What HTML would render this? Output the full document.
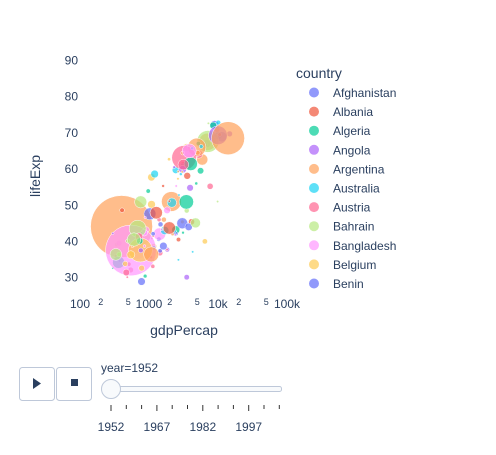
<!DOCTYPE html>
<html><head><meta charset="utf-8">
<style>
body{margin:0;background:#fff;font-family:"Liberation Sans",sans-serif;}
svg text{font-family:"Liberation Sans",sans-serif;fill:#2a3f5f;}
</style></head>
<body>
<svg id="chart" width="496" height="450" viewBox="0 0 496 450" xmlns="http://www.w3.org/2000/svg">
<defs><clipPath id="pc"><rect x="80" y="55" width="208" height="245"/></clipPath></defs>
<g id="ticks"></g>
<g id="marks" clip-path="url(#pc)"></g>
<text x="40" y="176" font-size="14" text-anchor="middle" transform="rotate(-90 40 176)">lifeExp</text>
<text x="184" y="335" font-size="14" text-anchor="middle">gdpPercap</text>
<g id="legend"><text x="296" y="78" font-size="14">country</text></g>
<g>
<rect x="19.5" y="367.5" width="35" height="33" rx="3" fill="#fff" stroke="#bec8d9"/>
<path d="M33 378 L41 383.5 L33 389 Z" fill="#2a3f5f"/>
<rect x="56.5" y="367.5" width="35" height="33" rx="3" fill="#fff" stroke="#bec8d9"/>
<rect x="71" y="379" width="7" height="7" fill="#2a3f5f"/>
<text x="101" y="372" font-size="12">year=1952</text>
<rect x="103.5" y="386.5" width="178" height="5" rx="2" fill="#f8fafc" stroke="#bec8d9"/>
<g id="sticks"></g>
<circle cx="111" cy="389" r="9.5" fill="#f8fafc" stroke="#bec8d9"/>
</g>
</svg>
<script>
const NS="http://www.w3.org/2000/svg";
const countries=["Afghanistan","Albania","Algeria","Angola","Argentina","Australia","Austria","Bahrain","Bangladesh","Belgium","Benin","Bolivia","Bosnia","Botswana","Brazil","Bulgaria","Burkina Faso","Burundi","Cambodia","Cameroon","Canada","CAR","Chad","Chile","China","Colombia","Comoros","Congo DR","Congo Rep","Costa Rica","Cote d'Ivoire","Croatia","Cuba","Czech Republic","Denmark","Djibouti","Dominican Rep","Ecuador","Egypt","El Salvador","Eq Guinea","Eritrea","Ethiopia","Finland","France","Gabon","Gambia","Germany","Ghana","Greece","Guatemala","Guinea","Guinea-Bissau","Haiti","Honduras","Hong Kong","Hungary","Iceland","India","Indonesia","Iran","Iraq","Ireland","Israel","Italy","Jamaica","Japan","Jordan","Kenya","Korea DR","Korea Rep","Kuwait","Lebanon","Lesotho","Liberia","Libya","Madagascar","Malawi","Malaysia","Mali","Mauritania","Mauritius","Mexico","Mongolia","Montenegro","Morocco","Mozambique","Myanmar","Namibia","Nepal","Netherlands","New Zealand","Nicaragua","Niger","Nigeria","Norway","Oman","Pakistan","Panama","Paraguay","Peru","Philippines","Poland","Portugal","Puerto Rico","Reunion","Romania","Rwanda","Sao Tome","Saudi Arabia","Senegal","Serbia","Sierra Leone","Singapore","Slovakia","Slovenia","Somalia","South Africa","Spain","Sri Lanka","Sudan","Swaziland","Sweden","Switzerland","Syria","Taiwan","Tanzania","Thailand","Togo","Trinidad","Tunisia","Turkey","Uganda","United Kingdom","United States","Uruguay","Venezuela","Vietnam","West Bank","Yemen","Zambia","Zimbabwe"];
const lifeExp=[28.8,55.2,43.1,30.0,62.5,69.1,66.8,50.9,37.5,68.0,38.2,40.4,53.8,47.6,50.9,59.6,32.0,39.0,39.4,38.5,68.8,35.5,38.1,54.7,44.0,50.6,40.7,39.1,42.1,57.2,40.5,61.2,59.4,66.9,70.8,34.8,45.9,48.4,41.9,45.3,34.5,35.9,34.1,66.6,67.4,37.0,30.0,67.5,43.1,65.9,42.0,33.6,32.5,37.6,41.9,61.0,64.0,72.5,37.4,37.5,44.9,45.3,66.9,65.4,65.9,58.5,63.0,43.2,42.3,50.1,47.5,55.6,55.9,42.1,38.5,42.7,36.7,36.3,48.5,33.7,40.5,51.0,50.8,42.2,59.2,42.9,31.3,36.3,41.7,36.2,72.1,69.4,42.3,37.4,36.3,72.7,37.6,43.4,55.2,62.6,43.9,47.8,61.3,59.8,64.3,52.7,61.1,40.0,46.5,39.9,37.3,58.0,30.3,60.4,64.4,65.6,33.0,45.0,64.9,57.6,38.6,41.4,71.9,69.6,45.9,58.5,41.2,50.8,38.6,59.1,44.6,43.6,40.0,69.2,68.4,66.1,55.1,40.4,43.2,32.5,42.0,48.5];
const gdpPercap=[779,1601,2449,3521,5911,10040,6137,9867,684,8343,1063,2677,974,851,2109,2444,543,339,368,1173,11367,1071,1179,3940,400,2144,1103,781,2126,2627,1389,3119,5587,6876,9692,2670,1398,3522,1419,3048,376,329,362,6425,7030,4293,485,7144,911,3531,2428,510,300,1840,2195,3054,5264,7268,547,750,3035,4130,5211,4087,4931,2899,3217,1547,854,1088,1031,108382,4835,299,576,2388,1443,369,1831,452,744,1968,3478,786,2648,1688,469,331,2424,546,8942,10557,3112,762,1077,10095,1828,685,2480,1952,3759,1273,4029,3068,3082,2719,3145,493,880,6460,1450,3581,880,2315,5075,4215,1136,4725,3834,1084,1616,1148,8528,14734,1644,1207,717,758,860,3024,1469,1970,735,9980,13990,5717,7690,605,1516,782,1147,407];
const pop=[8.4,1.28,9.28,4.23,17.9,8.69,6.93,0.12,46.9,8.73,1.74,2.88,2.79,0.44,56.6,7.27,4.47,2.45,4.69,5.01,14.8,1.29,2.68,6.38,556,12.4,0.15,14.1,0.85,0.93,2.98,3.88,6.0,9.13,4.33,0.06,2.49,3.55,22.2,2.04,0.22,1.44,20.9,4.09,42.5,0.42,0.28,69.1,5.58,7.73,3.15,2.66,0.58,3.2,1.52,2.13,9.5,0.15,372,82.1,17.3,5.44,2.95,1.62,47.7,1.43,86.5,0.61,6.46,8.87,20.9,0.16,1.44,0.75,0.86,1.02,4.76,2.92,6.75,3.84,1.02,0.52,30.1,0.8,0.41,9.94,6.45,20.1,0.49,9.18,10.4,1.99,1.17,3.38,33.1,3.33,0.51,41.3,0.94,1.56,8.03,22.4,25.7,8.53,2.23,0.26,16.6,2.53,0.06,4.01,2.76,6.86,2.14,1.13,3.56,1.49,2.53,14.3,28.5,7.98,8.5,0.29,7.12,4.82,3.66,8.55,8.32,21.3,1.22,0.66,3.65,22.2,5.82,50.4,157.6,2.25,5.44,26.2,1.03,4.96,2.67,3.08];
const yTicks=[30,40,50,60,70,80,90];
const xMajor=[100,1000,10000,100000];
const xMajorLabels=["100","1000","10k","100k"];
const years=[1952,1957,1962,1967,1972,1977,1982,1987,1992,1997,2002,2007];
const colors=["#636efa","#EF553B","#00cc96","#ab63fa","#FFA15A","#19d3f3","#FF6692","#B6E880","#FF97FF","#FECB52"];
const X=v=>80+(Math.log10(v)-2)*69;
const Y=v=>60+(90-v)*3.62;
const maxPop=Math.max(...pop);
const R=p=>31*Math.sqrt(p/maxPop);
function mk(tag,attrs,parent,txt){const e=document.createElementNS(NS,tag);for(const k in attrs)e.setAttribute(k,attrs[k]);if(txt!==undefined)e.textContent=txt;parent.appendChild(e);return e;}
const ticks=document.getElementById("ticks");
yTicks.forEach(t=>{const e=mk("text",{x:78,y:Y(t)+4.5,"font-size":12,"text-anchor":"end"},ticks,String(t));

});
xMajor.forEach((t,i)=>{const e=mk("text",{x:X(t),y:308,"font-size":12,"text-anchor":"middle"},ticks,xMajorLabels[i]);


if(i<3){[2,5].forEach(m=>{const s=mk("text",{x:X(t*m),y:305,"font-size":9,"text-anchor":"middle"},ticks,String(m));

});}});
const marks=document.getElementById("marks");
const order=countries.map((c,i)=>i).sort((a,b)=>pop[b]-pop[a]);
countries.forEach((c,i)=>{const r=Math.max(R(pop[i]),1.2);
const e=mk("circle",{cx:X(gdpPercap[i]),cy:Y(lifeExp[i]),r:r,fill:colors[i%10],"fill-opacity":0.7,stroke:"#fff","stroke-width":0.5},marks);

});
const legend=document.getElementById("legend");
for(let i=0;i<11;i++){const y=92.5+i*19.1;
const d=mk("circle",{cx:314,cy:y,r:5,fill:colors[i%10],"fill-opacity":0.7},legend);


const t=mk("text",{x:333,y:y+4.5,"font-size":12},legend,countries[i]);

}
const st=document.getElementById("sticks");
years.forEach((yr,i)=>{const x=111+i*15.3;const big=i%3===0;
const l=mk("line",{x1:x,x2:x,y1:405,y2:big?411:409,stroke:"#333","stroke-width":1},st);


if(big){const t=mk("text",{x:x,y:431,"font-size":12,"text-anchor":"middle"},st,String(yr));

}});
</script>
</body></html>
